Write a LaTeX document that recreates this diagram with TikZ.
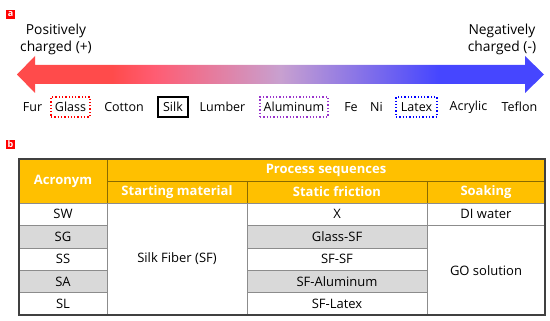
\documentclass[tikz,border=0pt]{standalone}
\usepackage{fontspec}
\setmainfont{Open Sans}
\usepackage{xcolor}
\usetikzlibrary{positioning}
\definecolor{posred}{HTML}{FF4B4B}
\definecolor{pinkred}{HTML}{FF5C72}
\definecolor{midlav}{HTML}{C8A0D0}
\definecolor{negblue}{HTML}{4646FF}
\definecolor{headorange}{HTML}{FFC000}
\definecolor{headline}{HTML}{8A6A00}
\definecolor{rowgrey}{HTML}{D9D9D9}
\definecolor{gridgrey}{HTML}{8C8C8C}
\definecolor{alupurple}{HTML}{9933CC}
\pgfdeclarehorizontalshading{chargeshade}{100bp}{color(0bp)=(posred); color(34bp)=(posred);
  color(38bp)=(pinkred); color(50bp)=(midlav); color(65bp)=(negblue); color(100bp)=(negblue)}

\begin{document}
\begin{tikzpicture}[x=1pt, y=-1pt,
    panel/.style={fill=red, text=white, font=\bfseries\fontsize{9}{9}\selectfont,
                  inner sep=0pt, minimum size=9.5pt},
    lab/.style={font=\fontsize{13.8}{16.5}\selectfont, inner sep=1pt},
    mat/.style={font=\fontsize{12.5}{14}\selectfont, inner sep=1pt},
    matbox/.style={mat, minimum height=20pt, line width=1.3pt},
    cell/.style={font=\fontsize{13}{14}\selectfont, inner sep=0pt},
    headcell/.style={font=\bfseries\fontsize{13}{14}\selectfont, text=white, inner sep=0pt},
]
\useasboundingbox (0,0) rectangle (550,321);

%% Panel a: triboelectric series
\node[panel] (pa) at (10.5,14.5) {a};
\node[lab, align=center] (pos) at (56,39.5) {Positively\\charged (+)};
\node[lab, align=center] (neg) at (502,39.5) {Negatively\\charged (-)};
\shade[shading=chargeshade]
  (17,74.5) -- (35,56) -- (35,65) -- (525,65) -- (525,56) -- (544,74.5)
  -- (525,93) -- (525,84) -- (35,84) -- (35,93) -- cycle;

\node[mat] (fur) at (32.5,107) {Fur};
\node[matbox, draw=red, dotted, minimum width=39pt] (glass) at (70.5,107) {Glass};
\node[mat] (cotton) at (124,107) {Cotton};
\node[matbox, draw=black, minimum width=30pt] (silk) at (173,107) {Silk};
\node[mat] (lumber) at (222.5,107) {Lumber};
\node[matbox, draw=alupurple, dotted, minimum width=68pt] (alu) at (294,107) {Aluminum};
\node[mat] (fe) at (351,107) {Fe};
\node[mat] (ni) at (376.5,107) {Ni};
\node[matbox, draw=blue, dotted, minimum width=41pt] (latex) at (416.5,107) {Latex};
\node[mat] (acrylic) at (468.5,107) {Acrylic};
\node[mat] (teflon) at (519.5,107) {Teflon};

%% Panel b: process table
\node[panel] (pb) at (10.5,144.5) {b};
\fill[headorange] (19,159) rectangle (545,203);
\foreach \y in {226,270} {
  \fill[rowgrey] (19,\y) rectangle (107,\y+22.3);
  \fill[rowgrey] (247,\y) rectangle (427,\y+22.3);
}
%% header lines
\draw[headline, line width=0.8pt] (107,159) -- (107,203);
\draw[headline, line width=0.8pt] (107,181) -- (545,181);
\draw[headline, line width=0.8pt] (247,181) -- (247,203);
\draw[headline, line width=0.8pt] (427,181) -- (427,203);
%% body lines
\draw[gridgrey, line width=0.8pt] (19,203) -- (545,203);
\foreach \y in {225.5,248,270.3,292.5} {
  \draw[gridgrey, line width=0.8pt] (19,\y) -- (107,\y);
  \draw[gridgrey, line width=0.8pt] (247,\y) -- (427,\y);
}
\draw[gridgrey, line width=0.8pt] (427,225.5) -- (545,225.5);
\foreach \x in {107,247,427}
  \draw[gridgrey, line width=0.8pt] (\x,203) -- (\x,315);
\draw[black!75, line width=1.2pt] (19,159) rectangle (545,315);

\node[headcell] (hacr) at (63,181) {Acronym};
\node[headcell] (hproc) at (326,170) {Process sequences};
\node[headcell] (hstart) at (177,192) {Starting material};
\node[headcell] (hfric) at (337,192) {Static friction};
\node[headcell] (hsoak) at (486,192) {Soaking};

\foreach \i/\acr/\fric [evaluate=\i as \yc using 214.3+22.4*(\i-1)] in
    {1/SW/X, 2/SG/Glass-SF, 3/SS/SF-SF, 4/SA/SF-Aluminum, 5/SL/SF-Latex} {
  \node[cell] (acr-\i) at (63,\yc) {\acr};
  \node[cell] (fric-\i) at (337,\yc) {\fric};
}
\node[cell] (start) at (177,259) {Silk Fiber (SF)};
\node[cell] (soak-1) at (486,214.3) {DI water};
\node[cell] (soak-2) at (486,270.5) {GO solution};
\end{tikzpicture}
\end{document}
